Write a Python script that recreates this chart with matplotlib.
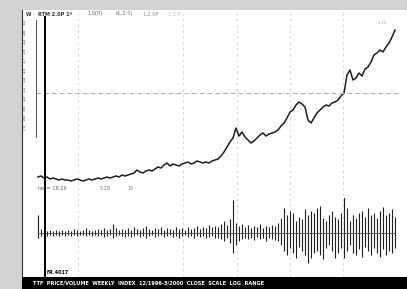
import numpy as np
import matplotlib.pyplot as plt
from matplotlib.patches import Rectangle
from matplotlib.lines import Line2D

# weekly closes (index = week)
price = [23, 24, 22, 23, 21, 22, 21, 20, 21, 20,
         20, 19, 20, 21, 20, 19, 20, 21, 20, 21,
         22, 21, 22, 23, 22, 23, 24, 23, 25, 24,
         25, 26, 27, 30, 28, 27, 29, 30, 29, 31,
         33, 32, 35, 37, 34, 36, 35, 34, 36, 37,
         38, 36, 37, 39, 38, 37, 38, 37, 39, 40,
         41, 44, 48, 53, 58, 62, 72, 64, 68, 63,
         60, 57, 59, 62, 65, 67, 64, 66, 67, 68,
         70, 74, 77, 82, 88, 90, 95, 98, 96, 93,
         80, 77, 82, 87, 90, 93, 95, 94, 97, 98,
         100, 104, 107, 125, 130, 120, 122, 127, 124, 131,
         133, 138, 145, 147, 150, 148, 153, 157, 163, 170]

# oscillator range per week (high / low around zero)
osc_hi = [18, 4, 3, 2, 3, 2, 3, 2, 3, 2,
          3, 2, 4, 3, 2, 3, 5, 3, 2, 3,
          4, 3, 5, 3, 4, 9, 5, 3, 4, 3,
          5, 3, 6, 4, 3, 5, 7, 4, 3, 5,
          4, 6, 3, 5, 4, 3, 6, 4, 5, 3,
          6, 4, 5, 7, 4, 6, 5, 8, 6, 7,
          6, 9, 12, 8, 14, 33, 10, 7, 9, 6,
          8, 5, 7, 6, 9, 5, 7, 6, 8, 7,
          10, 15, 25, 18, 22, 20, 12, 16, 14, 24,
          18, 22, 20, 25, 27, 15, 12, 18, 22, 16,
          14, 20, 40, 25, 12, 18, 15, 20, 22, 16,
          25, 18, 20, 15, 22, 26, 18, 20, 24, 16]
osc_lo = [-5, -3, -2, -3, -2, -3, -2, -3, -2, -3,
          -2, -3, -2, -3, -2, -2, -3, -2, -3, -2,
          -3, -2, -4, -3, -2, -5, -3, -2, -3, -4,
          -3, -4, -3, -2, -4, -3, -5, -3, -2, -4,
          -3, -2, -4, -3, -2, -4, -3, -5, -3, -2,
          -4, -3, -5, -3, -4, -3, -5, -4, -3, -5,
          -5, -6, -8, -5, -10, -20, -12, -8, -6, -5,
          -6, -5, -7, -4, -6, -5, -8, -5, -6, -7,
          -8, -12, -18, -22, -15, -20, -25, -14, -18, -22,
          -30, -25, -20, -18, -22, -26, -15, -12, -18, -25,
          -20, -15, -25, -18, -12, -20, -22, -16, -24, -14,
          -18, -22, -15, -20, -24, -16, -22, -18, -20, -15]

grid_weeks = [13.3, 48.3, 66.3, 84, 101.7]
ref_level = 107
cursor_week = 2.3

W, H = 407, 289
fig = plt.figure(figsize=(W / 100, H / 100), dpi=100, facecolor='#d2d3d5')

def px(x0, y0, x1, y1):
    return [x0 / W, 1 - y1 / H, (x1 - x0) / W, (y1 - y0) / H]

fig.patches.append(Rectangle((22 / W, 0), (W - 22) / W, 1 - 10 / H,
                             transform=fig.transFigure, facecolor='white',
                             edgecolor='none', zorder=-5))
fig.patches.append(Rectangle((22 / W, 0), (W - 22) / W, 12 / H,
                             transform=fig.transFigure, facecolor='black',
                             edgecolor='none', zorder=5))

weeks = np.arange(len(price))
xlim = (-0.67, 120.67)

ax = fig.add_axes(px(36, 12, 400, 196))
ax.plot(weeks, price, color='#1e1e1e', lw=1.1)
ax.axhline(ref_level, color='#b0b0b0', lw=0.8, ls=(0, (4, 3)))
ax.set_xlim(*xlim)
ax.set_ylim(4, 188)

ax2 = fig.add_axes(px(36, 198, 400, 277))
ax2.vlines(weeks, osc_lo, osc_hi, color='#1e1e1e', lw=0.8)
ax2.plot(weeks, [0] * len(weeks), color='#555555', lw=0.6)
ax2.set_xlim(*xlim)
ax2.set_ylim(-44, 35)

for a in (ax, ax2):
    for g in grid_weeks:
        a.axvline(g, color='#dcdcdc', lw=0.7, ls=(0, (3, 3)), zorder=1)
    a.axis('off')
    a.patch.set_alpha(0)
    a.set_zorder(2)
ax.axvline(cursor_week, ymax=(196 - 17) / 184, color='black', lw=1.4)
ax2.axvline(cursor_week, color='black', lw=1.4)

fig.lines.append(Line2D([22 / W, 22 / W], [0, 1 - 10 / H], color='#333333',
                        lw=0.8, transform=fig.transFigure))
fig.lines.append(Line2D([36 / W, 36 / W], [1 - 137 / H, 1 - 20 / H],
                        color='#555555', lw=0.7, transform=fig.transFigure))
fig.lines.append(Line2D([45 / W, 45 / W], [1 - 198 / H, 1 - 194 / H],
                        color='black', lw=1.4, transform=fig.transFigure))

def t(x, y, s, **kw):
    kw.setdefault('fontsize', 3.6)
    kw.setdefault('color', '#333333')
    kw.setdefault('ha', 'left')
    fig.text(x / W, 1 - y / H, s, va='center', **kw)

# header
t(26, 14, 'W', fontweight='bold')
t(38, 14, 'RTM 2.0P 1*', fontweight='bold')
t(88, 14, '1.0(0)', color='#555555')
t(115, 14, 'KL,2.0)', color='#777777')
t(143, 14, 'L,2.0P', color='#888888')
t(168, 14, '1.0 P', color='#bbbbbb')
t(378, 23, '1.75', color='#aaaaaa', fontsize=3.2)

# left scale
left_ticks = ['3.0', '2.6', '2.2', '1.9', '1.7', '1.5', '1.3', '1.1', '1.0', '.90', '.80', '.70']
for k, lab in enumerate(left_ticks):
    t(23, 22 + k * 9.5, lab, fontsize=3.0, color='#444444', rotation=90)

t(38, 188, 'ref = 18.26', color='#666666')
t(100, 188, '5.28', color='#777777')
t(128, 188, '15', color='#888888')

t(47, 273, 'FR.4017', color='black', fontweight='bold', fontsize=3.4)
fig.text(33 / W, 1 - 283 / H,
         'TTF  PRICE/VOLUME  WEEKLY  INDEX  12/1996-3/2000  CLOSE  SCALE  LOG  RANGE',
         color='white', fontsize=3.6, fontweight='bold', va='center', ha='left', zorder=6)

fig.savefig('out.png', dpi=100, facecolor=fig.get_facecolor())
